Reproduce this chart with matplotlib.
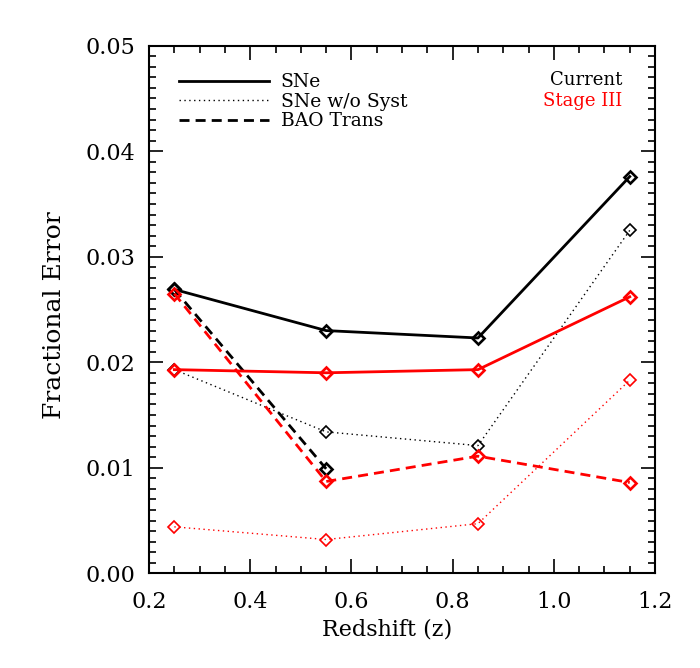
import matplotlib
matplotlib.use("Agg")
import matplotlib.pyplot as plt
from matplotlib.lines import Line2D
from matplotlib.ticker import MultipleLocator, FormatStrFormatter

plt.rcParams['font.family'] = ['DejaVu Serif']

# redshift bins
z = [0.25, 0.55, 0.85, 1.15]
z_bao = [0.25, 0.55]

# Current (black)
sne_cur = [0.0269, 0.0230, 0.0223, 0.0376]
sne_nosys_cur = [0.0193, 0.0134, 0.0121, 0.0325]
bao_cur = [0.0269, 0.0099]

# Stage III (red)
sne_s3 = [0.0193, 0.0190, 0.0193, 0.0262]
sne_nosys_s3 = [0.0044, 0.0032, 0.0047, 0.0183]
bao_s3 = [0.0265, 0.0087, 0.0111, 0.0086]

dash = (0, (3.6, 2.2))
dot = (0, (1, 2.5))

fig = plt.figure(figsize=(7, 6.68), dpi=100)
ax = fig.add_axes([0.2129, 0.1418, 0.7229, 0.7898])

def curve(x, y, color, ls, lw, ms, mew):
    ax.plot(x, y, color=color, linestyle=ls, linewidth=lw, marker='D',
            markersize=ms, markerfacecolor='none', markeredgecolor=color,
            markeredgewidth=mew)

curve(z, sne_cur, 'black', '-', 2.0, 6, 1.9)
curve(z, sne_nosys_cur, 'black', dot, 1.0, 6, 1.2)
curve(z_bao, bao_cur, 'black', dash, 2.0, 6, 1.9)
curve(z, sne_s3, 'red', '-', 2.0, 6, 1.9)
curve(z, sne_nosys_s3, 'red', dot, 1.0, 6, 1.2)
curve(z, bao_s3, 'red', dash, 2.0, 6, 1.9)

ax.set_xlim(0.2, 1.2)
ax.set_ylim(0.0, 0.05)
ax.xaxis.set_major_locator(MultipleLocator(0.2))
ax.xaxis.set_minor_locator(MultipleLocator(0.05))
ax.yaxis.set_major_locator(MultipleLocator(0.01))
ax.yaxis.set_minor_locator(MultipleLocator(0.001))
ax.xaxis.set_major_formatter(FormatStrFormatter('%.1f'))
ax.yaxis.set_major_formatter(FormatStrFormatter('%.2f'))
ax.tick_params(which='both', direction='in', top=True, right=True,
               width=1.2, labelsize=16)
ax.tick_params(which='major', length=10)
ax.tick_params(axis='x', which='major', pad=13)
ax.tick_params(axis='y', which='major', pad=10)
ax.tick_params(which='minor', length=5)
for s in ax.spines.values():
    s.set_linewidth(1.5)

ax.set_xlabel('Redshift (z)', fontsize=16)
ax.set_ylabel('Fractional Error', fontsize=18)
ax.xaxis.set_label_coords(0.47, -0.085)
ax.yaxis.set_label_coords(-0.165, 0.49)

handles = [Line2D([], [], color='black', lw=2.0, ls='-'),
           Line2D([], [], color='black', lw=1.0, ls=dot),
           Line2D([], [], color='black', lw=2.0, ls=dash)]
ax.legend(handles, ['SNe', 'SNe w/o Syst', 'BAO Trans'], loc='upper left',
          bbox_to_anchor=(0.045, 0.962), frameon=False, fontsize=13.5,
          handlelength=4.8, handletextpad=0.6, labelspacing=0.08,
          borderaxespad=0)

ax.text(0.935, 0.935, 'Current', transform=ax.transAxes, ha='right',
        va='center', fontsize=13, color='black')
ax.text(0.935, 0.895, 'Stage III', transform=ax.transAxes, ha='right',
        va='center', fontsize=13, color='red')

fig.savefig('out.png', dpi=100)
